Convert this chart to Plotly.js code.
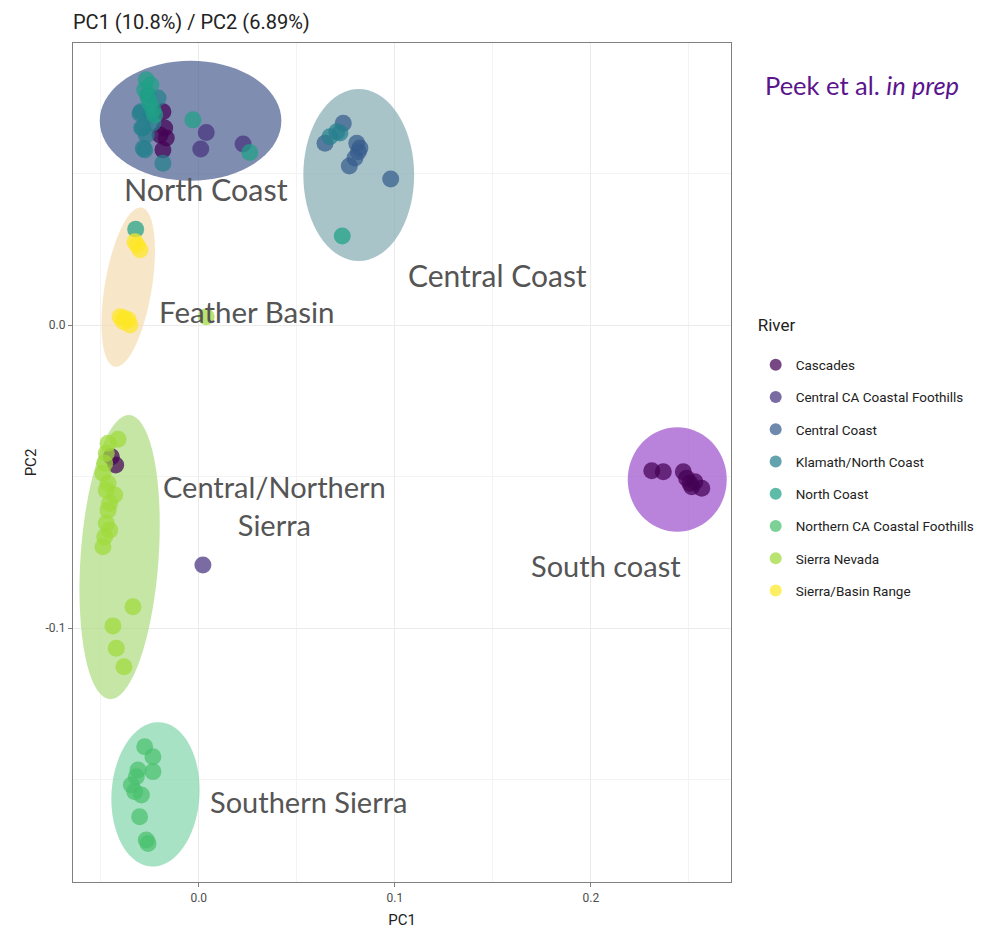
<!DOCTYPE html>
<html>
<head>
<meta charset="utf-8">
<script src="https://cdn.plot.ly/plotly-3.0.1.min.js"></script>
<style>html,body{margin:0;padding:0;background:#fff;}#chart{width:984px;height:929px;}</style>
</head>
<body>
<div id="chart"></div>
<script>
// ---- Data ----
const riverNames = ["Cascades","Central CA Coastal Foothills","Central Coast","Klamath/North Coast","North Coast","Northern CA Coastal Foothills","Sierra Nevada","Sierra/Basin Range"];
const riverColors = ["#440154","#46337E","#365C8D","#277F8E","#1FA187","#4AC16D","#9FDA3A","#FDE725"];

const cascadesPC1 = [-0.0174,-0.0166,-0.0183,-0.0183,-0.0198,-0.0446,-0.0424,0.2311,0.2370,0.2472,0.2489,0.2531,0.2515,0.2566,0.2506];
const cascadesPC2 = [0.0650,0.0617,0.0578,0.0704,0.0627,-0.0435,-0.0462,-0.0481,-0.0484,-0.0484,-0.0506,-0.0517,-0.0534,-0.0539,-0.0522];

const ccFoothillsPC1 = [0.0021,0.0038,0.0010,0.0226];
const ccFoothillsPC2 = [-0.0792,0.0635,0.0581,0.0597];

const centralCoastPC1 = [0.0737,0.0644,0.0806,0.0814,0.0822,0.0797,0.0768,0.0979];
const centralCoastPC2 = [0.0666,0.0600,0.0600,0.0572,0.0584,0.0551,0.0525,0.0482];

const klamathPC1 = [0.0704,0.0669,0.0720,-0.0259,-0.0295,-0.0285,-0.0268,-0.0276,-0.0183,-0.0234,-0.0208,-0.0249,-0.0300,-0.0283,-0.0291];
const klamathPC2 = [0.0638,0.0621,0.0634,0.0759,0.0704,0.0650,0.0627,0.0578,0.0534,0.0667,0.0749,0.0693,0.0698,0.0583,0.0650];

const northCoastPC1 = [-0.0268,-0.0244,-0.0276,-0.0259,-0.0251,-0.0234,-0.0225,-0.0030,0.0260,0.0732,-0.0322];
const northCoastPC2 = [0.0809,0.0792,0.0776,0.0753,0.0733,0.0710,0.0693,0.0677,0.0569,0.0294,0.0316];

const ncFoothillsPC1 = [-0.0276,-0.0234,-0.0234,-0.0310,-0.0319,-0.0344,-0.0327,-0.0293,-0.0302,-0.0268,-0.0259];
const ncFoothillsPC2 = [-0.1392,-0.1425,-0.1474,-0.1469,-0.1491,-0.1518,-0.1540,-0.1551,-0.1623,-0.1700,-0.1711];

const sierraNevadaPC1 = [0.0038,-0.0412,-0.0463,-0.0472,-0.0480,-0.0489,-0.0463,-0.0472,-0.0429,-0.0455,-0.0463,-0.0472,-0.0455,-0.0480,-0.0489,-0.0336,-0.0438,-0.0421,-0.0382];
const sierraNevadaPC2 = [0.0027,-0.0377,-0.0390,-0.0423,-0.0456,-0.0489,-0.0522,-0.0545,-0.0561,-0.0588,-0.0611,-0.0654,-0.0677,-0.0699,-0.0732,-0.0930,-0.0993,-0.1067,-0.1128];

const basinRangePC1 = [-0.0326,-0.0300,-0.0315,-0.0402,-0.0360,-0.0385,-0.0351,-0.0382];
const basinRangePC2 = [0.0275,0.0248,0.0264,0.0027,0.0017,0.0011,0.0000,0.0023];

const xTickVals = [0.0,0.1,0.2];
const xTickText = ["0.0","0.1","0.2"];
const yTickVals = [-0.1,0.0];
const yTickText = ["-0.1","0.0"];

// Cluster labels
const clusterLabels = ["North Coast","Central Coast","Feather Basin","Central/Northern<br>Sierra","Southern Sierra","South coast"];
const clusterLabelX = [0.0039,0.1525,0.0245,0.0386,0.0561,0.2077];
const clusterLabelY = [0.0449,0.0165,0.0043,-0.0597,-0.1571,-0.0795];

// Cluster ellipses: centre (data), half-widths in px, tilt (deg), colour
const ellCX = [-0.0042,0.0816,-0.0360,-0.0404,-0.0221,0.2441];
const ellCY = [0.0674,0.0495,0.0125,-0.0766,-0.1549,-0.0510];
const ellRX = [90.8,55.4,23.5,39,44,49.5];
const ellRY = [60,86,80.8,142.4,72.3,52.2];
const ellTilt = [0,0,9.5,4,3.5,0];
const ellColors = ["rgb(72,92,142)","rgb(131,171,178)","rgb(245,219,176)","rgb(172,219,127)","rgb(131,214,172)","rgb(155,78,204)"];

// ---- Layout geometry ----
const W = 984, H = 929;
const margin = {l:73, r:253, t:43, b:47, autoexpand:false};
const xRange = [-0.06418, 0.27153];
const yRange = [-0.18383, 0.09307];
const KX = (W - margin.l - margin.r) / (xRange[1]-xRange[0]);
const KY = (H - margin.t - margin.b) / (yRange[1]-yRange[0]);

function ellipsePath(cx, cy, rx, ry, tiltDeg){
  const th = tiltDeg*Math.PI/180, n = 72;
  let p = "";
  for(let i=0;i<=n;i++){
    const t = 2*Math.PI*i/n;
    const ux = rx*Math.cos(t), uy = ry*Math.sin(t);
    const dx = ux*Math.cos(th) + uy*Math.sin(th);
    const dy = -ux*Math.sin(th) + uy*Math.cos(th);
    p += (i===0?"M":"L") + (cx+dx/KX).toFixed(6) + "," + (cy+dy/KY).toFixed(6);
  }
  return p + "Z";
}

const shapes = ellCX.map((cx,i)=>({
  type:"path", xref:"x", yref:"y", layer:"between",
  path: ellipsePath(cx, ellCY[i], ellRX[i], ellRY[i], ellTilt[i]),
  fillcolor: ellColors[i], opacity:0.7, line:{width:0}
}));

const xs = [cascadesPC1,ccFoothillsPC1,centralCoastPC1,klamathPC1,northCoastPC1,ncFoothillsPC1,sierraNevadaPC1,basinRangePC1];
const ys = [cascadesPC2,ccFoothillsPC2,centralCoastPC2,klamathPC2,northCoastPC2,ncFoothillsPC2,sierraNevadaPC2,basinRangePC2];

const traces = riverNames.map((nm,i)=>({
  type:"scatter", mode:"markers", name:nm, legendgroup:"g"+i,
  x: xs[i], y: ys[i],
  marker:{size:17, color:riverColors[i], opacity:0.72, line:{width:0}}
}));

const labelSizes = [30.5,30,29.5,29,29,29];
const annotations = clusterLabels.map((t,i)=>({
  x: clusterLabelX[i], y: clusterLabelY[i], xref:"x", yref:"y",
  text:t, showarrow:false, align:"center",
  font:{family:"Lato, 'Open Sans', sans-serif", size:labelSizes[i], color:"#555555"}
}));
annotations.push({
  xref:"paper", yref:"paper", x:1.048, y:0.95, xanchor:"left", yanchor:"middle",
  text:"Peek et al. <i>in prep</i>", showarrow:false,
  font:{family:"Lato, 'Open Sans', sans-serif", size:25.5, color:"#5a148c"}
});

const axisCommon = {
  showline:true, mirror:true, linecolor:"#7f7f7f", linewidth:1.3,
  showgrid:true, gridcolor:"#ebebeb", gridwidth:1,
  zeroline:false, ticks:"outside", ticklen:4, tickcolor:"#7f7f7f",
  tickfont:{family:"Roboto, sans-serif", size:12, color:"#4d4d4d"}
};

const layout = {
  width:W, height:H, margin:margin,
  paper_bgcolor:"#ffffff", plot_bgcolor:"#ffffff",
  title:{text:"PC1 (10.8%) / PC2 (6.89%)", x:0, xref:"paper", xanchor:"left", y:0.976, yanchor:"middle",
         font:{family:"Roboto, sans-serif", size:20, color:"#222222"}},
  xaxis:Object.assign({}, axisCommon, {
    range:xRange, tickvals:xTickVals, ticktext:xTickText,
    minor:{tickvals:[-0.05,0.05,0.15,0.25], showgrid:true, gridcolor:"#f3f3f3", ticks:""},
    title:{text:"PC1", standoff:12, font:{family:"Roboto, sans-serif", size:15, color:"#222222"}}
  }),
  yaxis:Object.assign({}, axisCommon, {
    range:yRange, tickvals:yTickVals, ticktext:yTickText,
    minor:{tickvals:[-0.15,-0.05,0.05], showgrid:true, gridcolor:"#f3f3f3", ticks:""},
    title:{text:"PC2", standoff:5, font:{family:"Roboto, sans-serif", size:15, color:"#222222"}}
  }),
  showlegend:true,
  legend:{
    x:1.0375, xanchor:"left", y:0.678, yanchor:"top", xref:"paper", yref:"paper",
    title:{text:"<span style='font-size:17px'>River</span><br> ", font:{family:"Roboto, sans-serif", size:14, color:"#222222"}},
    font:{family:"Roboto, sans-serif", size:13.5, color:"#222222"},
    tracegroupgap:11.7, itemsizing:"constant", bgcolor:"rgba(0,0,0,0)"
  },
  shapes:shapes,
  annotations:annotations
};

Plotly.newPlot("chart", traces, layout, {displayModeBar:false, responsive:false});
</script>
</body>
</html>
